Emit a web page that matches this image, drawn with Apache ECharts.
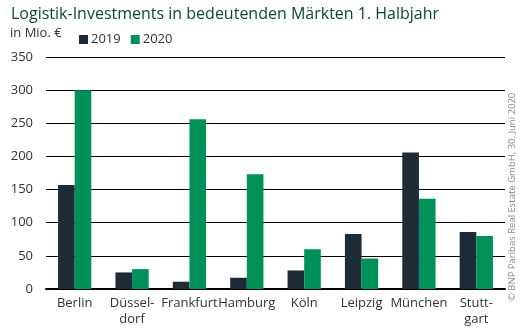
<!DOCTYPE html>
<html><head><meta charset="utf-8">
<script src="https://cdn.jsdelivr.net/npm/echarts@6/dist/echarts.min.js"></script>
<style>html,body{margin:0;padding:0;background:#fff}#c{width:520px;height:330px}</style>
</head><body><div id="c"></div>
<script>
const categories = ['Berlin', 'Düssel-\ndorf', 'Frankfurt', 'Hamburg', 'Köln', 'Leipzig', 'München', 'Stutt-\ngart'];
const values2019 = [157, 25, 11, 17, 28, 83, 206, 86];
const values2020 = [300, 30, 256, 173, 60, 46, 136, 80];
const yTicks = { min: 0, max: 350, interval: 50 };

const FONT = '"Open Sans", "Noto Sans", sans-serif';
const chart = echarts.init(document.getElementById('c'), null, { renderer: 'canvas' });
chart.setOption({
  animation: false,
  backgroundColor: '#fff',
  title: {
    text: 'Logistik-Investments in bedeutenden Märkten 1. Halbjahr',
    left: 6, top: 1,
    textStyle: { fontFamily: FONT, fontSize: 16, fontWeight: 500, color: '#0d4634' }
  },
  legend: {
    left: 74, top: 28,
    itemWidth: 9, itemHeight: 9, itemGap: 10,
    icon: 'rect',
    textStyle: { fontFamily: FONT, fontSize: 13, color: '#333', padding: [0, 0, 0, -2] },
    data: ['2019', '2020']
  },
  graphic: [
    { type: 'text', left: 10, top: 27, style: { text: 'in Mio. €', font: '13px ' + FONT, fill: '#333' } },
    { type: 'text', x: 507, y: 301, rotation: Math.PI / 2,
      style: { text: '© BNP Paribas Real Estate GmbH, 30. Juni 2020', font: '9.5px ' + FONT, fill: '#8a8a8a', align: 'left', verticalAlign: 'top' } }
  ],
  grid: { left: 46, right: 15, top: 57, bottom: 41, containLabel: false },
  xAxis: {
    type: 'category', data: categories,
    axisLine: { lineStyle: { color: '#000', width: 2 } },
    axisTick: { show: false },
    axisLabel: { fontFamily: FONT, fontSize: 13, color: '#333', margin: 6, lineHeight: 16, interval: 0 }
  },
  yAxis: {
    type: 'value', min: yTicks.min, max: yTicks.max, interval: yTicks.interval,
    axisLine: { show: false }, axisTick: { show: false },
    splitLine: { lineStyle: { color: '#000', width: 1 } },
    axisLabel: { fontFamily: FONT, fontSize: 13, color: '#333', margin: 13 }
  },
  series: [
    { name: '2019', type: 'bar', data: values2019, itemStyle: { color: '#1d2b36' }, barGap: '0%', barCategoryGap: '42%' },
    { name: '2020', type: 'bar', data: values2020, itemStyle: { color: '#00915a' }, barGap: '0%', barCategoryGap: '42%' }
  ]
});
</script></body></html>
